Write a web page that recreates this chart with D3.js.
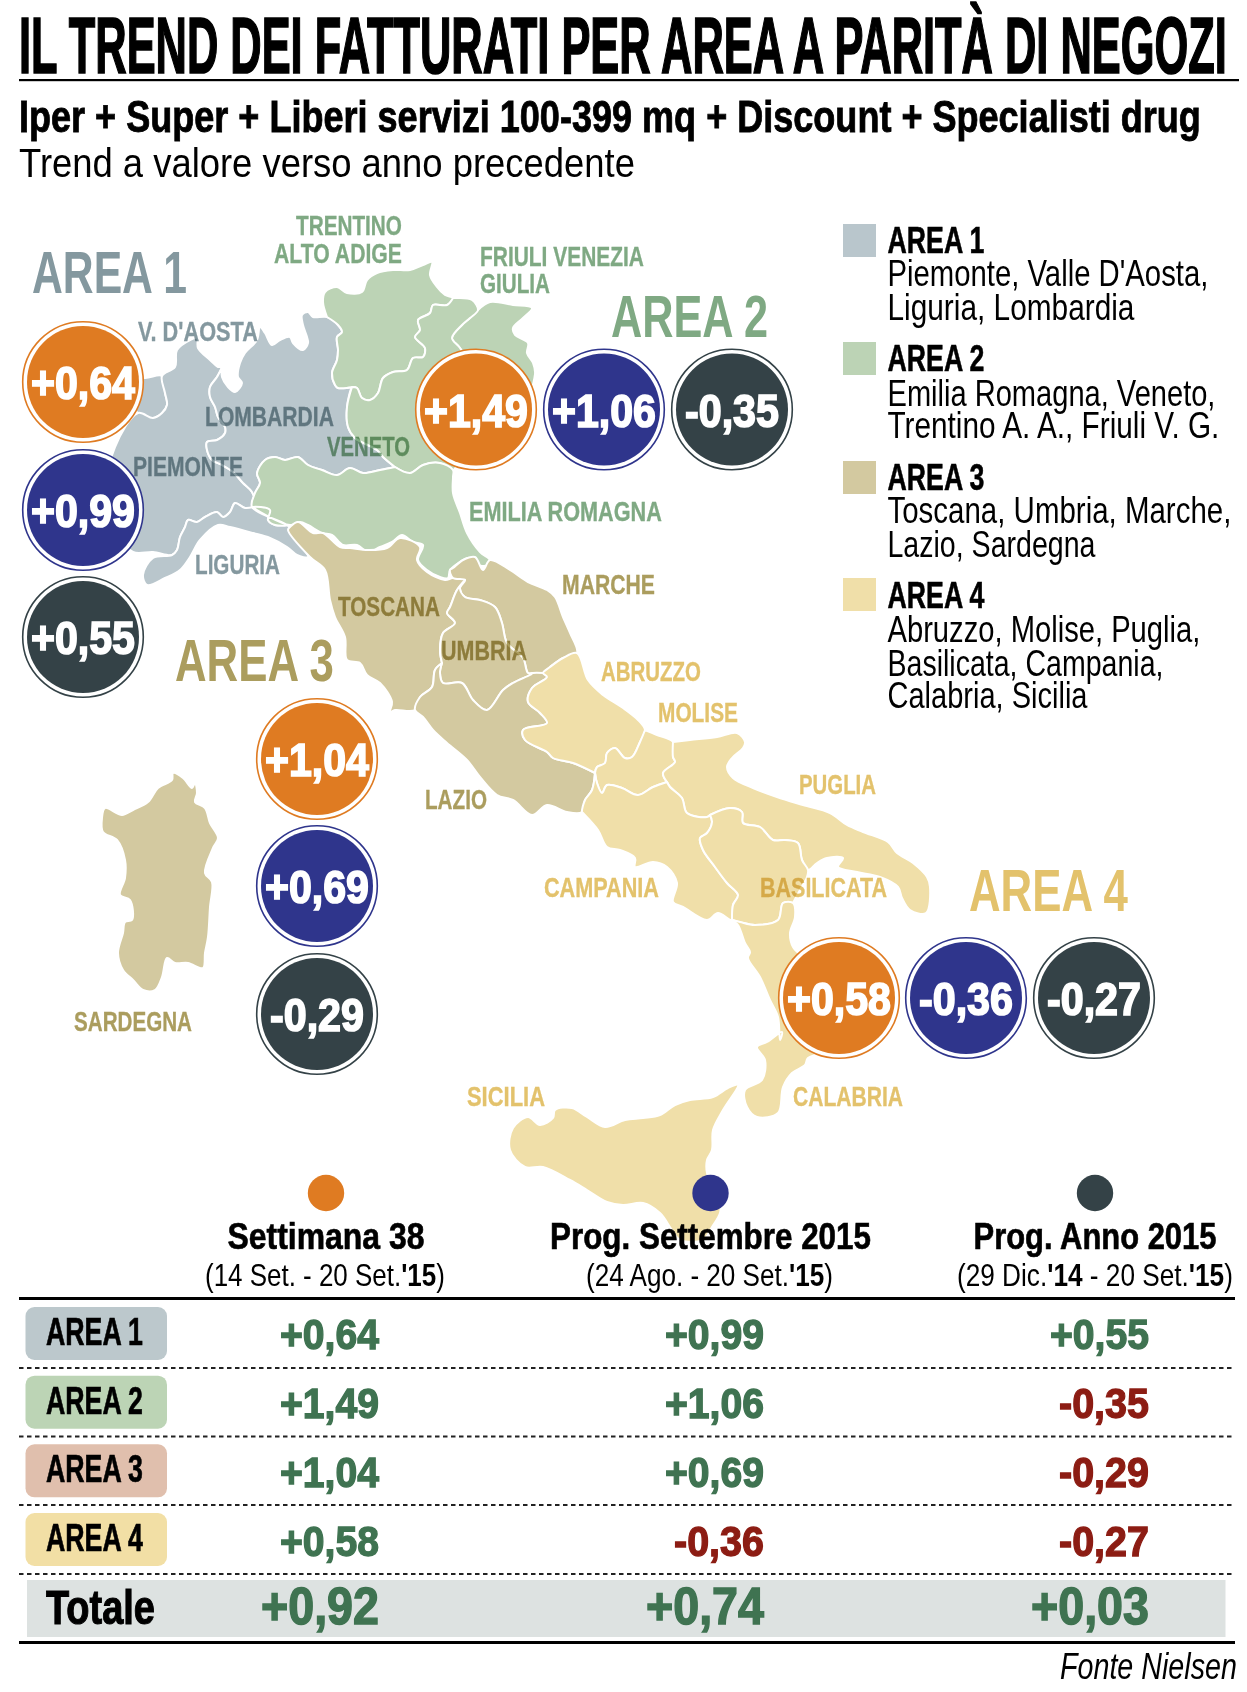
<!DOCTYPE html>
<html><head><meta charset="utf-8">
<script src="https://cdn.jsdelivr.net/npm/d3@7/dist/d3.min.js"></script>
<style>
html,body{margin:0;padding:0;background:#fff}
svg{display:block}
text{font-family:"Liberation Sans Narrow","Liberation Sans",Arial,sans-serif}
</style></head><body><div id="c"></div>
<script>
const areaNames = ["AREA 1","AREA 2","AREA 3","AREA 4"];
const periodNames = ["Settimana 38","Prog. Settembre 2015","Prog. Anno 2015"];
const settimana38 = [0.64,1.49,1.04,0.58];
const progSettembre = [0.99,1.06,0.69,-0.36];
const progAnno = [0.55,-0.35,-0.29,-0.27];
const totale = [0.92,0.74,0.03];
const legendLines = [
 ["Piemonte, Valle D'Aosta,","Liguria, Lombardia"],
 ["Emilia Romagna, Veneto,","Trentino A. A., Friuli V. G."],
 ["Toscana, Umbria, Marche,","Lazio, Sardegna"],
 ["Abruzzo, Molise, Puglia,","Basilicata, Campania,","Calabria, Sicilia"]];

// Shared map borders (map units)
const bPL=[[222,367],[217,377],[210,387],[210,397],[215,407],[218,417],[225,427],[225,433],[217,440],[207,442],[207,450],[212,460],[222,465],[233,472],[243,483],[252,492],[255,503]];
const bLigP=[[253,507],[245,508],[235,503],[230,512],[223,517],[217,512],[205,517],[197,522],[188,520],[185,527],[180,537],[177,550],[172,555]];
const bVdA=[[162,376],[165,393],[167,405],[162,413],[153,418],[138,413]];
const bLomT=[[327,317],[338,325],[342,332],[337,337],[338,350],[337,360],[332,373],[335,385],[338,388],[353,387]];
const bLomV=[[352,387],[347,407],[348,427],[355,438],[377,450],[383,457],[395,467]];
const bLomE=[[395,467],[380,470],[363,473],[350,468],[337,475],[322,470],[308,465],[298,457],[285,460],[275,457],[265,460],[257,473],[260,483],[255,493],[252,507]];
const bTV=[[453,298],[447,305],[433,305],[430,313],[418,320],[420,330],[415,337],[425,348],[423,357],[413,358],[407,370],[393,372],[383,378],[378,393],[370,400],[362,398],[357,388],[352,387]];
const bFV=[[478,310],[470,318],[462,325],[452,338],[460,348],[480,380],[500,400]];
const bVE=[[395,467],[410,473],[423,465],[440,463],[453,470]];
const bET=[[490,560],[488,565],[477,565],[468,558],[460,562],[450,570],[448,578],[440,577],[427,570],[418,560],[423,545],[413,542],[402,535],[392,542],[380,547],[368,552],[357,545],[343,545],[332,535],[322,533],[308,525],[300,522],[290,525]];
const bEL=[[287,525],[275,525],[268,520],[270,510],[253,507]];
const bTU=[[465,580],[457,590],[450,607],[447,613],[455,623],[443,633],[440,650],[442,663]];
const bTL=[[442,663],[435,670],[432,687],[420,697],[415,710]];
const bMU=[[533,673],[528,673],[523,658],[507,643],[502,623],[495,607],[480,600],[465,597],[460,588],[465,580]];
const bUL=[[442,663],[440,673],[443,683],[462,683],[473,700],[487,710],[503,690],[513,683],[530,675],[533,673]];
const bMA=[[577,653],[563,658],[550,667],[543,673],[533,673]];
const bLA=[[543,673],[547,677],[532,688],[528,702],[540,713],[547,723],[523,730],[525,740],[547,752],[553,758],[573,763],[595,773]];
const bLC=[[595,773],[592,790],[585,800],[582,812]];
const bAM=[[645,730],[640,742],[632,757],[625,758],[615,748],[607,753],[605,763],[597,767],[595,773]];
const bMP=[[673,742],[673,757],[675,762],[663,773],[667,782]];
const bMC=[[667,782],[653,787],[638,795],[622,788],[607,785],[602,793],[597,783],[595,773]];
const bPC=[[667,782],[670,787],[682,798],[687,813],[707,817],[710,815]];
const bPB=[[710,815],[730,808],[742,812],[743,823],[760,827],[773,840],[785,840],[798,843],[802,860],[808,870]];
const bCB=[[710,815],[712,822],[707,833],[700,838],[703,850],[715,867],[727,883],[738,895],[733,905],[732,920]];
const bBC=[[732,920],[740,922],[755,925],[778,920],[783,903],[793,903]];
const rev=a=>a.slice().reverse();

const regionShapes = [
 {name:"Valle d'Aosta",area:0,pts:[...bVdA,[125,395],[130,375],[145,378]]},
 {name:"Piemonte",area:0,pts:[...bPL,...bLigP,[153,552],[133,552],[115,530],[108,480],[115,447],...rev(bVdA),[175,367],[177,350],[190,340],[197,338],[198,348],[210,360],[218,367]]},
 {name:"Lombardia",area:0,pts:[[222,367],[222,377],[228,387],[235,392],[242,383],[238,377],[240,363],[245,353],[257,340],[260,327],[265,333],[272,345],[280,340],[290,337],[293,343],[303,350],[308,343],[307,337],[303,325],[302,315],[308,312],[313,317],...bLomT,...bLomV,...bLomE,...rev(bPL)]},
 {name:"Liguria",area:0,pts:[...bLigP,[153,558],[143,575],[147,585],[165,578],[180,570],[190,557],[200,540],[218,525],[230,527],[253,533],[270,538],[287,547],[297,555],[308,557],[297,540],...bEL]},
 {name:"Trentino",area:1,pts:[[327,317],[323,302],[325,292],[337,287],[347,293],[362,292],[367,280],[377,273],[393,270],[410,270],[423,265],[432,262],[430,275],[437,287],[445,295],...bTV,...rev(bLomT)]},
 {name:"Friuli",area:1,pts:[[478,310],[490,302],[513,305],[532,308],[523,318],[513,328],[515,335],[528,343],[527,353],[533,363],[535,374],[520,410],...rev(bFV)]},
 {name:"Veneto",area:1,pts:[[453,298],[457,298],[472,300],...bFV,[490,430],[460,460],...rev(bVE),...rev(bLomV),...rev(bTV)]},
 {name:"Emilia",area:1,pts:[...rev(bLomE),...bVE,[453,477],[453,493],[460,513],[467,533],[480,552],...bET,...rev(bEL)]},
 {name:"Toscana",area:2,pts:[[290,527],[298,522],[313,533],[323,533],[340,547],[350,548],[368,550],[387,548],[400,538],[420,547],[417,560],[427,572],[445,580],[453,578],...bTU,...bTL,[395,710],[390,712],[392,702],[380,683],[367,675],[360,663],[347,660],[345,637],[335,617],[330,600],[325,570],[310,557],[288,530]]},
 {name:"Marche",area:2,pts:[[453,568],[463,560],[475,557],[483,570],[490,560],[510,570],[528,582],[547,590],[555,597],[563,617],[570,633],...bMA,...bMU,[453,578],[450,570]]},
 {name:"Umbria",area:2,pts:[...rev(bMU),...rev(bUL),...rev(bTU)]},
 {name:"Lazio",area:2,pts:[...bUL,[543,673],...bLA,...bLC,[567,812],[547,805],[532,815],[513,800],[497,795],[480,777],[467,760],[447,743],[433,730],[423,717],...rev(bTL)]},
 {name:"Abruzzo",area:3,pts:[[577,653],[588,680],[603,695],[623,708],[638,720],...bAM,...rev(bLA),[550,667],[563,658]]},
 {name:"Molise",area:3,pts:[[645,730],[657,735],...bMP,...bMC,...rev(bAM)]},
 {name:"Puglia",area:3,pts:[[673,742],[690,740],[717,737],[737,733],[745,742],[743,748],[732,758],[727,767],[733,778],[753,788],[777,797],[803,805],[830,813],[847,825],[863,832],[888,842],[897,853],[913,863],[927,877],[930,887],[926,913],[910,910],[902,898],[898,887],[880,877],[857,872],[838,867],[843,858],[827,858],[817,863],...rev(bPB),...rev(bPC),...rev(bMP)]},
 {name:"Campania",area:3,pts:[...bPC,...bCB,[718,913],[707,920],[683,907],[673,902],[677,883],[667,867],[653,862],[635,867],[635,858],[620,850],[607,847],[598,830],[583,813],...rev(bLC),...rev(bMC)]},
 {name:"Basilicata",area:3,pts:[...bPB,[807,877],[800,890],[793,903],...rev(bBC),...rev(bCB)]},
 {name:"Calabria",area:3,pts:[...bBC,[795,917],[790,933],[793,947],[840,990],[855,1040],[808,1058],[805,1065],[792,1073],[783,1087],[778,1113],[757,1117],[747,1107],[745,1090],[762,1080],[765,1060],[757,1047],[767,1042],[782,1032],[780,1040],[778,1017],[770,1000],[760,977],[748,958],[750,952],[745,943],[738,925]]},
 {name:"Sicilia",area:3,pts:[[738,1085],[728,1088],[713,1097],[690,1100],[675,1105],[660,1115],[643,1118],[625,1120],[605,1127],[587,1117],[572,1108],[555,1110],[553,1118],[540,1125],[528,1117],[513,1128],[510,1150],[525,1167],[543,1167],[570,1180],[587,1190],[607,1202],[623,1205],[643,1203],[660,1213],[672,1230],[680,1240],[703,1240],[712,1227],[720,1213],[720,1203],[707,1173],[707,1160],[712,1150],[713,1130],[723,1110]]},
 {name:"Sardegna",area:2,pts:[[173,773],[183,778],[192,788],[195,783],[197,793],[195,802],[205,808],[210,823],[218,838],[213,848],[205,873],[212,882],[210,907],[208,937],[205,953],[203,968],[188,963],[175,963],[167,958],[162,977],[155,990],[143,990],[133,980],[123,970],[118,953],[123,933],[125,922],[132,920],[130,900],[120,895],[125,878],[125,860],[117,840],[103,832],[102,818],[105,808],[122,815],[133,810],[148,802],[158,788],[172,780]]}
];

const regionLabels = [
 ["TRENTINO",1,296,235,106],["ALTO ADIGE",1,274,263,128],["FRIULI VENEZIA",1,480,266,164],["GIULIA",1,480,293,70],
 ["V. D'AOSTA",0,138,341,120],["LOMBARDIA",0,205,426,129],["PIEMONTE",0,133,476,110],["LIGURIA",0,195,574,85],
 ["VENETO",1,327,456,83],["EMILIA ROMAGNA",1,469,521,193],["TOSCANA",2,338,616,102],["UMBRIA",2,441,660,86],
 ["MARCHE",2,562,594,93],["LAZIO",2,425,809,62],["SARDEGNA",2,74,1031,118],["ABRUZZO",3,601,681,100],
 ["MOLISE",3,658,722,80],["PUGLIA",3,799,794,77],["CAMPANIA",3,544,897,115],["BASILICATA",3,760,897,127],
 ["SICILIA",3,467,1106,78],["CALABRIA",3,793,1106,110]];

const mapFill=["#b9c6cc","#bcd3b5","#d3c9a0","#f0dfa9"];
const labelInk=["#84989f","#7fa983","#ab9d5e","#e3c26c"];
const badgeFill=["#bcc8cc","#bcd4b5","#e0bfad","#f2dfa5"];
const periodInk=["#df7b22","#2f358c","#344247"];
const POS="#3f7351",NEG="#8c1c13",INK="#000";

const svg=d3.select("#c").append("svg").attr("width",1247).attr("height",1692).attr("viewBox","0 0 1247 1692");
const it=d3.formatLocale({decimal:",",thousands:".",grouping:[3],currency:["€",""],minus:"-"});
const fmt=it.format("+.2f");

function fit(t,x,y,w){
  const n=t.node().getComputedTextLength();
  t.attr("x",0).attr("y",0).attr("transform",`translate(${x},${y}) scale(${w/n},1)`);
}
function txt(s,x,y,size,w,o={}){
  const t=svg.append("text").attr("font-size",size)
    .attr("fill",o.fill||INK).attr("font-weight",o.weight||"normal").attr("text-anchor",o.anchor||"start").text(s);
  if(o.stroke){t.attr("stroke",o.stroke).attr("stroke-width",o.sw||1).attr("paint-order","stroke").style("vector-effect","non-scaling-stroke");}
  if(o.style)t.attr("font-style",o.style);
  if(o.blend)t.style("mix-blend-mode",o.blend);
  fit(t,x,y,w);
  return t;
}

// Header
txt("IL TREND DEI FATTURATI PER AREA A PARITÀ DI NEGOZI",19,73,80,1208,{weight:"bold",stroke:"#000",sw:1.4});
svg.append("rect").attr("x",19).attr("y",79).attr("width",1220).attr("height",2.2).attr("fill","#000");
txt("Iper + Super + Liberi servizi 100-399 mq + Discount + Specialisti drug",19,132,45,1182,{weight:"bold",stroke:"#000",sw:.8});
txt("Trend a valore verso anno precedente",19,177,41,616);

// Map
const shape=d3.line().curve(d3.curveCatmullRomClosed.alpha(0.5));
svg.append("g").selectAll("path").data(regionShapes).join("path")
  .attr("d",d=>shape(d.pts))
  .attr("fill",d=>mapFill[d.area]).attr("stroke","#fff").attr("stroke-width",2).attr("stroke-linejoin","round");

// Region labels
regionLabels.forEach(d=>txt(d[0],d[2],d[3],28,d[4],{weight:"bold",fill:labelInk[d[1]],blend:"multiply",stroke:labelInk[d[1]],sw:.3}));

// Big area labels
const bigLabels=[[32,293,155],[611,337,157],[175,681,159],[969,911,159]];
areaNames.forEach((a,i)=>txt(a,bigLabels[i][0],bigLabels[i][1],59,bigLabels[i][2],{weight:"bold",fill:labelInk[i],blend:"multiply"}));

// Legend
const legendTop=[224,342,461,578], legendHead=[253,371,490,608];
const legendBase=[[286,320],[406,438],[523,557],[642,675.5,708]];
const legendW=[[321,247],[328,332],[344,208],[313,276,200]];
areaNames.forEach((a,i)=>{
  svg.append("rect").attr("x",843).attr("y",legendTop[i]).attr("width",33).attr("height",33).attr("fill",mapFill[i]);
  txt(a,887.5,legendHead[i],36,97,{weight:"bold",stroke:"#000",sw:.5});
  legendLines[i].forEach((l,j)=>txt(l,887.5,legendBase[i][j],37,legendW[i][j]));
});

// Value circles
const circleCentres=[
 [[83,382],[83,510],[83,637]],
 [[476,409.5],[604,409.5],[732,409.5]],
 [[317,759],[317,886],[317,1014]],
 [[839,998],[966,998],[1094,998]]];
const seriesByPeriod=[settimana38,progSettembre,progAnno];
areaNames.forEach((a,i)=>seriesByPeriod.forEach((s,p)=>{
  const [cx,cy]=circleCentres[i][p], v=s[i];
  svg.append("circle").attr("cx",cx).attr("cy",cy).attr("r",60.3).attr("fill","#fff").attr("stroke",periodInk[p]).attr("stroke-width",1.6);
  svg.append("circle").attr("cx",cx).attr("cy",cy).attr("r",56).attr("fill",periodInk[p]);
  const w=v<0?94:104;
  txt(fmt(v),cx-w/2,cy+17,46,w,{weight:"bold",fill:"#fff",stroke:"#fff",sw:1.6});
}));

// Table
const colDot=d3.scalePoint().domain(periodNames).range([326,1095]);
const colVal=d3.scalePoint().domain(periodNames).range([379,1149]);
const rowY=d3.scalePoint().domain(areaNames).range([1349,1555.5]);
const rowBox=d3.scalePoint().domain(areaNames).range([1307,1513]);
const headW=[197,321,243];
periodNames.forEach((p,i)=>{
  svg.append("circle").attr("cx",colDot(p)).attr("cy",1193).attr("r",18.2).attr("fill",periodInk[i]);
  txt(p,colDot(p),1248.5,37,headW[i],{weight:"bold",anchor:"middle",stroke:"#000",sw:.6});
});
// sub headers with bold years
const subH=[[205,240,[["(14 Set. - 20 Set.",0],["'15",1],[")",0]]],
            [586,247,[["(24 Ago. - 20 Set.",0],["'15",1],[")",0]]],
            [957,276,[["(29 Dic.",0],["'14",1],[" - 20 Set.",0],["'15",1],[")",0]]]];
subH.forEach(h=>{
  const t=svg.append("text").attr("font-size",31);
  h[2].forEach(q=>t.append("tspan").attr("font-weight",q[1]?"bold":"normal").text(q[0]));
  fit(t,h[0],1285.5,h[1]);
});
svg.append("rect").attr("x",19).attr("y",1297).attr("width",1216).attr("height",3).attr("fill","#000");
svg.append("rect").attr("x",19).attr("y",1641).attr("width",1216).attr("height",3).attr("fill","#000");
[1368,1436.5,1505,1574].forEach(y=>svg.append("line").attr("x1",19).attr("x2",1235).attr("y1",y).attr("y2",y)
   .attr("stroke","#222").attr("stroke-width",2).attr("stroke-dasharray","4.5 3.5"));
areaNames.forEach((a,i)=>{
  svg.append("rect").attr("x",25.5).attr("y",rowBox(a)).attr("width",141.5).attr("height",53).attr("rx",9).attr("fill",badgeFill[i]);
  txt(a,46,rowBox(a)+38,38,97,{weight:"bold",stroke:"#000",sw:.6});
  periodNames.forEach((p,j)=>{
    const v=seriesByPeriod[j][i], w=v<0?90:99;
    txt(fmt(v),colVal(p)-w,rowY(a),43,w,{weight:"bold",fill:v<0?NEG:POS,stroke:v<0?NEG:POS,sw:1.3});
  });
});
svg.insert("rect","line").attr("x",27).attr("y",1580).attr("width",1198.5).attr("height",57).attr("fill","#dde2e1");
txt("Totale",46,1623.5,48,109,{weight:"bold",stroke:"#000",sw:1});
periodNames.forEach((p,j)=>{
  txt(fmt(totale[j]),colVal(p)-118,1623.5,51,118,{weight:"bold",fill:POS,stroke:POS,sw:1.4});
});
txt("Fonte Nielsen",1060,1679,36,177,{style:"italic"});
</script></body></html>
